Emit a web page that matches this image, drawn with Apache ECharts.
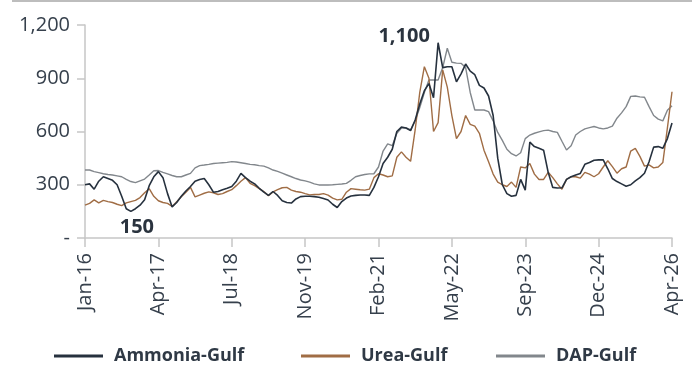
<!DOCTYPE html>
<html>
<head>
<meta charset="utf-8">
<script src="https://cdn.jsdelivr.net/npm/echarts@6/dist/echarts.min.js"></script>
<style>
  html, body { margin: 0; padding: 0; background: #ffffff; }
  #chart { width: 700px; height: 365px; }
</style>
</head>
<body>
<div id="chart"></div>
<script>
// Gulf fertilizer prices, USD per tonne, sampled on a regular grid Jan-16 .. Apr-26
const xTickLabels = ['Jan-16', 'Apr-17', 'Jul-18', 'Nov-19', 'Feb-21', 'May-22', 'Sep-23', 'Dec-24', 'Apr-26'];
const stepsPerTick = 16;
const yTicks = [0, 300, 600, 900, 1200];

const ammoniaGulf = [
  300, 305, 275, 320, 345, 335, 325, 300, 235, 165,
  150, 165, 185, 215, 295, 345, 374, 340, 250, 175,
  200, 235, 265, 290, 320, 330, 335, 300, 258, 262,
  272, 280, 290, 320, 364, 340, 320, 305, 280, 258,
  240, 262, 240, 210, 200, 197, 220, 233, 235, 235,
  233, 230, 222, 214, 190, 172, 205, 225, 237, 240,
  242, 242, 240, 285, 345, 420, 455, 500, 600, 625,
  620, 605, 665, 755, 830, 870, 790, 1100, 960, 965,
  965, 880, 925, 980, 940, 920, 860, 845, 800, 690,
  450, 300, 250, 235, 240, 330, 270, 540, 515, 505,
  495, 370, 285, 282, 283, 330, 345, 355, 364, 415,
  425, 438, 440, 440, 390, 335, 318, 305, 292, 300,
  322, 340, 365, 430, 512, 515, 505, 560, 648
];

const ureaGulf = [
  185, 195, 215, 198, 212, 205, 200, 190, 182, 198,
  205, 212, 228, 255, 278, 235, 210, 200, 195, 178,
  205, 232, 258, 285, 232, 242, 252, 260, 255, 245,
  250, 262, 272, 295, 320, 340, 308, 295, 278, 262,
  238, 260, 272, 283, 285, 270, 262, 258, 250, 243,
  246, 245, 250, 242, 225, 215, 218, 258, 278, 275,
  272, 270, 275, 340, 362, 355, 345, 350, 455, 485,
  455, 432, 610, 820, 965, 900, 600, 650, 947, 850,
  690, 560, 600, 690, 640, 630, 590, 495, 430, 360,
  315, 300, 290, 315, 285, 400, 395, 420, 360, 330,
  330, 370, 340, 305, 275, 330, 345, 345, 337, 370,
  360, 345, 362, 400, 435, 402, 365, 390, 400, 490,
  505, 460, 405, 412, 395, 400, 425, 620, 824
];

const dapGulf = [
  383, 383, 374, 368, 362, 358, 355, 350, 345, 330,
  318, 312, 322, 332, 355, 379, 380, 370, 361, 352,
  345, 345, 355, 364, 395, 408, 411, 415, 420, 422,
  424, 426, 430, 428, 424, 420, 415, 413, 408, 405,
  395, 383, 375, 365, 355, 345, 335, 327, 322, 315,
  305, 299, 299, 299, 300, 302, 304, 308, 325, 345,
  352, 358, 361, 362, 400, 490, 530, 520, 590, 620,
  620, 610, 660, 735, 820, 890, 890, 890, 960, 1069,
  990, 985, 984, 960, 820, 721, 721, 721, 712, 660,
  595, 550, 500, 475, 462, 480, 560, 580, 590, 598,
  605, 608, 600, 595, 545, 496, 520, 580, 600, 615,
  622, 628, 620, 615, 620, 630, 675, 705, 740, 798,
  800, 795, 793, 740, 690, 670, 660, 720, 745
];

const seriesNames = ['Ammonia-Gulf', 'Urea-Gulf', 'DAP-Gulf'];
const seriesColors = ['#26313e', '#a06d45', '#82878c'];

const periods = ammoniaGulf.map((_, i) => String(i));

const fmt = v => v.toLocaleString('en-US');
const inkColor = '#36404c';
const axisGray = '#c6c6c6';
const baseFont = "'Open Sans', 'Noto Sans', sans-serif";

const chart = echarts.init(document.getElementById('chart'), null, { renderer: 'canvas' });

function legendFor(name, left) {
  return {
    data: [name],
    left: left,
    top: 342,
    icon: 'rect',
    itemWidth: 49,
    itemHeight: 3,
    textStyle: {
      fontFamily: baseFont,
      fontSize: 18,
      fontWeight: 'bold',
      color: '#2f3945',
      padding: [0, 0, 0, 6]
    }
  };
}

chart.setOption({
  animation: false,
  backgroundColor: '#ffffff',
  textStyle: { fontFamily: baseFont },
  grid: { left: 85, right: 28, top: 25, bottom: 127, containLabel: false },
  legend: [
    legendFor(seriesNames[0], 49),
    legendFor(seriesNames[1], 296),
    legendFor(seriesNames[2], 491)
  ],
  graphic: [{
    type: 'line',
    shape: { x1: 12, y1: 1, x2: 692, y2: 1 },
    style: { stroke: '#bdbdbd', lineWidth: 2 },
    silent: true
  }],
  xAxis: {
    type: 'category',
    data: periods,
    boundaryGap: false,
    axisLine: { lineStyle: { color: axisGray, width: 1.5 } },
    axisTick: { show: true, interval: stepsPerTick - 1, length: 9, lineStyle: { color: axisGray, width: 1.5 } },
    axisLabel: {
      interval: stepsPerTick - 1,
      rotate: 90,
      margin: 15,
      fontSize: 20,
      color: inkColor,
      formatter: (v, idx) => xTickLabels[Math.round(idx / stepsPerTick)]
    },
    splitLine: { show: false }
  },
  yAxis: {
    type: 'value',
    min: yTicks[0],
    max: yTicks[yTicks.length - 1],
    interval: yTicks[1] - yTicks[0],
    axisLine: { show: true, lineStyle: { color: axisGray, width: 1.5 } },
    axisTick: { show: true, length: 8, lineStyle: { color: axisGray, width: 1.5 } },
    axisLabel: {
      margin: 15,
      fontSize: 20,
      color: inkColor,
      formatter: v => (v === 0 ? '-' : fmt(v))
    },
    splitLine: { show: false }
  },
  series: [
    {
      name: seriesNames[0],
      type: 'line',
      data: ammoniaGulf,
      symbol: 'none',
      lineStyle: { color: seriesColors[0], width: 1.6 },
      itemStyle: { color: seriesColors[0] },
      z: 4,
      markPoint: {
        symbol: 'circle',
        symbolSize: 0,
        itemStyle: { color: 'rgba(0,0,0,0)' },
        label: {
          show: true,
          position: 'inside',
          fontSize: 20,
          fontWeight: 'bold',
          color: '#2a333e',
          formatter: p => fmt(p.value)
        },
        data: [
          { type: 'max', label: { offset: [-34, -6] } },
          { type: 'min', label: { offset: [6, 16] } }
        ]
      }
    },
    {
      name: seriesNames[1],
      type: 'line',
      data: ureaGulf,
      symbol: 'none',
      lineStyle: { color: seriesColors[1], width: 1.4 },
      itemStyle: { color: seriesColors[1] },
      z: 3
    },
    {
      name: seriesNames[2],
      type: 'line',
      data: dapGulf,
      symbol: 'none',
      lineStyle: { color: seriesColors[2], width: 1.4 },
      itemStyle: { color: seriesColors[2] },
      z: 2
    }
  ]
});
</script>
</body>
</html>
